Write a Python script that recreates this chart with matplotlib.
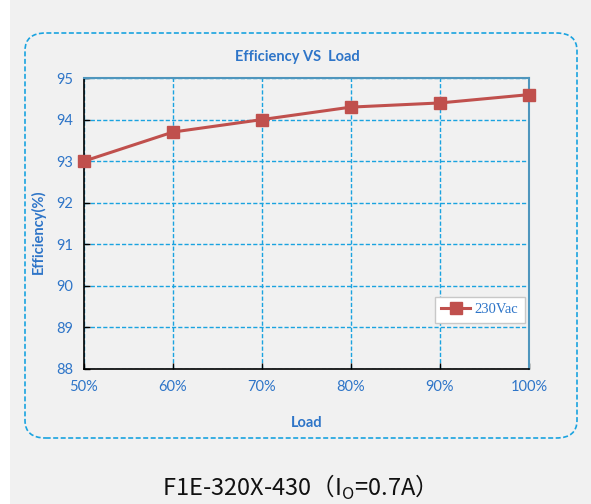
import numpy as np
import matplotlib
matplotlib.use('Agg')
import matplotlib.pyplot as plt
from matplotlib.patches import FancyBboxPatch, Rectangle

# efficiency vs load, 230Vac input
load = [50, 60, 70, 80, 90, 100]
eff = [93.0, 93.7, 94.0, 94.3, 94.4, 94.6]
x_labels = ['50%', '60%', '70%', '80%', '90%', '100%']
y_ticks = [88, 89, 90, 91, 92, 93, 94, 95]

blue = '#2e75c8'
grid_c = '#1aa3e0'
red = '#c0504d'

W, H = 591, 504
fig = plt.figure(figsize=(W / 100, H / 100), dpi=100)
fig.patch.set_facecolor('#f1f1f1')

# white strip on the left edge
fig.patches.append(Rectangle((0, 0), 10 / W, 1, transform=fig.transFigure,
                             facecolor='white', edgecolor='none', zorder=0))

# rounded dashed frame
box = FancyBboxPatch((25 / W, 1 - 438 / H), 552 / W, 405 / H,
                     boxstyle='round,pad=0,rounding_size=0.035',
                     transform=fig.transFigure, facecolor='none',
                     edgecolor=grid_c, linestyle=(0, (3, 1.5)), linewidth=1.2)
fig.patches.append(box)

ax = fig.add_axes([84 / W, 1 - 369 / H, 445 / W, 291 / H])
ax.set_facecolor('#f1f1f1')
ax.plot(load, eff, color=red, linewidth=2.2, marker='s', markersize=9,
        markerfacecolor=red, markeredgecolor=red, label='230Vac', clip_on=False, zorder=5)

ax.set_xlim(50, 100)
ax.set_ylim(88, 95)
ax.set_xticks(load)
ax.set_xticklabels(x_labels)
ax.set_yticks(y_ticks)

ax.grid(True, color=grid_c, linestyle=(0, (3, 1.5)), linewidth=1.0)
ax.set_axisbelow(True)

for s in ['left', 'bottom']:
    ax.spines[s].set_color('black')
    ax.spines[s].set_linewidth(1.2)
for s in ['top', 'right']:
    ax.spines[s].set_color('#4f96bd')
    ax.spines[s].set_linewidth(1.5)

ax.tick_params(axis='both', direction='in', length=4, width=1, color='black',
               labelcolor=blue, labelsize=10.5, pad=8)
for lab in ax.get_xticklabels() + ax.get_yticklabels():
    lab.set_family('Lato')

ax.set_title('Efficiency VS  Load', fontsize=10.5, fontweight='bold', color=blue,
             family='Lato', pad=12, x=0.48)
ax.set_xlabel('Load', fontsize=10.5, fontweight='bold', color=blue, family='Lato', labelpad=16)
ax.set_ylabel('Efficiency(%)', fontsize=10.5, fontweight='bold', color=blue, family='Lato')
ax.yaxis.set_label_coords(-0.085, 0.47)

leg = ax.legend(loc='lower right', bbox_to_anchor=(0.991, 0.158), borderaxespad=0,
                prop={'family': 'Liberation Serif', 'size': 10.5}, fancybox=False,
                framealpha=1, edgecolor='#c8c8c8', handlelength=2.0, handletextpad=0.3,
                borderpad=0.45)
for t in leg.get_texts():
    t.set_color(blue)

fig.text(293 / W, 1 - 487 / H, 'F1E-320X-430\uff08I$_\\mathregular{O}$=0.7A\uff09',
         ha='center', va='center', fontsize=17, color='#111111',
         family=['Noto Sans CJK SC', 'DejaVu Sans'])

fig.savefig('out.png', dpi=100, facecolor=fig.get_facecolor())
